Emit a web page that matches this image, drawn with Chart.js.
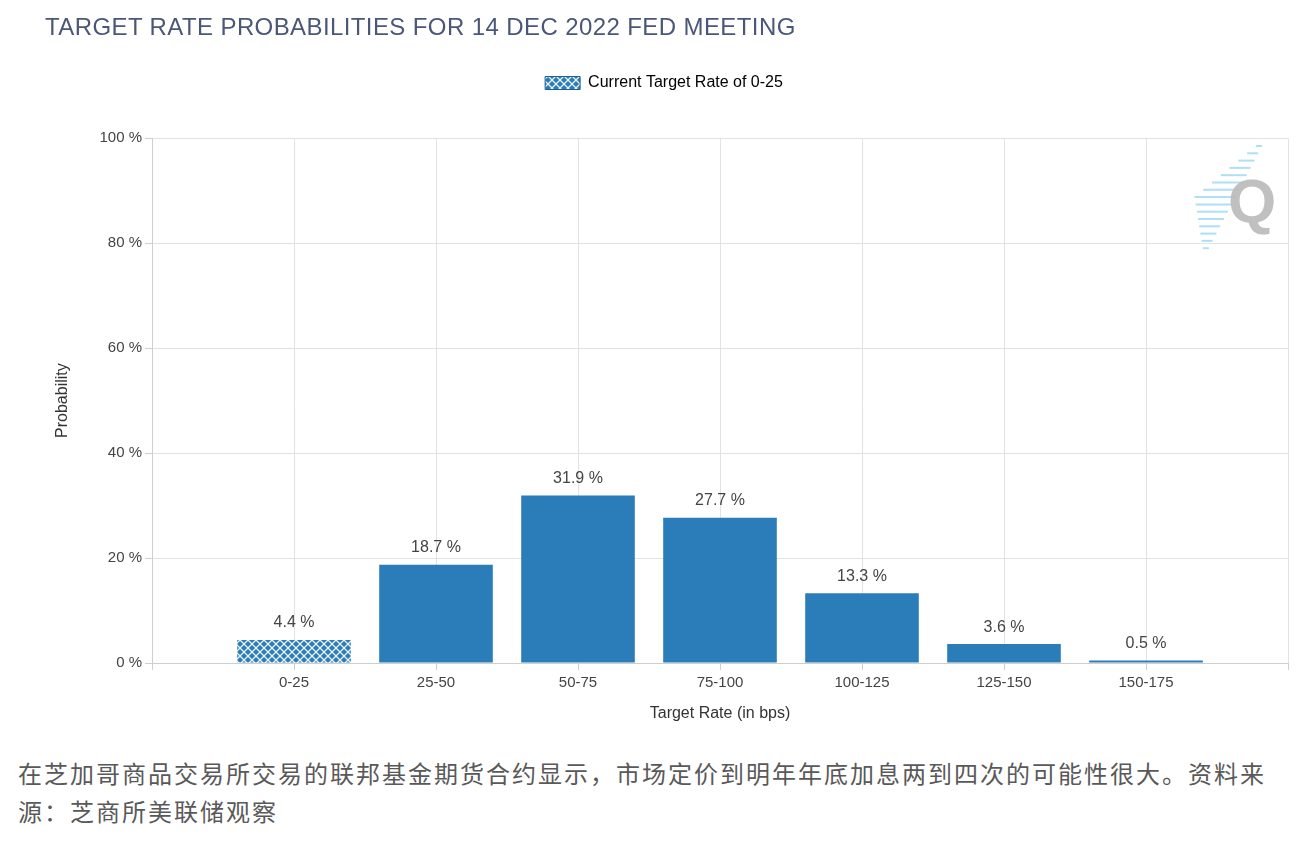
<!DOCTYPE html>
<html>
<head>
<meta charset="utf-8">
<script src="https://cdn.jsdelivr.net/npm/chart.js@4/dist/chart.umd.min.js"></script>
<style>
  body { margin: 0; background: #fff; width: 1309px; height: 846px; overflow: hidden; position: relative; }
  #title { position: absolute; left: 45px; top: 15px; font-family: "Liberation Sans", Arial, sans-serif; font-size: 24px; line-height: 24px; letter-spacing: 0.4px; color: #4b5779; white-space: nowrap; }
  #box { position: absolute; left: 0; top: 0; width: 1309px; height: 740px; }
  #caption { position: absolute; left: 18px; top: 754px; font-family: "Noto Sans CJK SC", sans-serif; font-size: 24px; line-height: 38px; letter-spacing: 2px; color: #595959; white-space: nowrap; }
</style>
</head>
<body>
<div id="box"><canvas id="myChart"></canvas></div>
<div id="title">TARGET RATE PROBABILITIES FOR 14 DEC 2022 FED MEETING</div>
<div id="caption">在芝加哥商品交易所交易的联邦基金期货合约显示，市场定价到明年年底加息两到四次的可能性很大。资料来<br>源：芝商所美联储观察</div>
<script>
// categories (empty slots at both ends keep the axis edges)
const rates = ['', '0-25', '25-50', '50-75', '75-100', '100-125', '125-150', '150-175', ''];
// probability in %
const probs = [null, 4.4, 18.7, 31.9, 27.7, 13.3, 3.6, 0.5, null];
const yTicks = [0, 20, 40, 60, 80, 100];
const currentRate = '0-25';

const blue = '#2a7db8';

// hatch pattern for the current target rate bar
function makePattern() {
    const c = document.createElement('canvas');
    c.width = 8;
    c.height = 8;
    const p = c.getContext('2d');
    p.fillStyle = blue;
    p.fillRect(0, 0, 8, 8);
    p.strokeStyle = 'rgba(255,255,255,0.9)';
    p.lineWidth = 1.3;
    p.beginPath();
    p.moveTo(0, 0); p.lineTo(8, 8);
    p.moveTo(8, 0); p.lineTo(0, 8);
    p.stroke();
    return p.createPattern(c, 'repeat');
}
const hatch = makePattern();

const colors = rates.map(r => r === currentRate ? hatch : blue);

// value labels above the bars
const barLabels = {
    id: 'barLabels',
    afterDatasetsDraw(chart) {
        const ctx = chart.ctx;
        const meta = chart.getDatasetMeta(0);
        ctx.save();
        ctx.font = '16px "Liberation Sans", Arial, sans-serif';
        ctx.fillStyle = '#444';
        ctx.textAlign = 'center';
        ctx.textBaseline = 'bottom';
        meta.data.forEach((bar, i) => {
            if (probs[i] === null) return;
            ctx.fillText(probs[i].toFixed(1) + ' %', bar.x, bar.y - 9);
        });
        ctx.restore();
    }
};

// little Q watermark in the corner
const watermark = {
    id: 'watermark',
    beforeDatasetsDraw(chart) {
        const ctx = chart.ctx;
        ctx.save();
        ctx.strokeStyle = 'rgba(110,195,240,0.55)';
        ctx.lineWidth = 2;
        for (let i = 0; i < 15; i++) {
            const y = 146 + i * 7.3;
            const xr = 1262 - i * 3.8;
            const len = 6 + Math.min(i, 14 - i) * 5;
            ctx.beginPath();
            ctx.moveTo(xr - len, y);
            ctx.lineTo(xr, y);
            ctx.stroke();
        }
        ctx.font = 'bold 62px "Liberation Sans", Arial, sans-serif';
        ctx.fillStyle = 'rgba(185,185,185,0.9)';
        ctx.textAlign = 'center';
        ctx.textBaseline = 'middle';
        ctx.fillText('Q', 1252, 205);
        ctx.restore();
    }
};

Chart.defaults.font.family = '"Liberation Sans", Arial, sans-serif';
Chart.defaults.color = '#444';

const canva = document.getElementById('myChart').getContext('2d');
const myChart = new Chart(canva, {
    type: 'bar',
    data: {
        labels: rates,
        datasets: [{
            label: 'Current Target Rate of 0-25',
            data: probs,
            backgroundColor: colors,
            borderWidth: 0,
            categoryPercentage: 0.8,
            barPercentage: 1
        }]
    },
    options: {
        responsive: true,
        maintainAspectRatio: false,
        animation: false,
        layout: { padding: { top: 55, left: 40, right: 21, bottom: 13 } },
        plugins: {
            tooltip: { enabled: false },
            legend: {
                position: 'top',
                labels: {
                    font: { size: 16 },
                    color: '#333',
                    boxWidth: 35,
                    boxHeight: 13,
                    padding: 20,
                    generateLabels: () => [{
                        text: 'Current Target Rate of 0-25',
                        fillStyle: hatch,
                        strokeStyle: '#1f5f8f',
                        lineWidth: 1,
                        datasetIndex: 0
                    }]
                }
            },
            // empty title used as a gap between the legend and the plot
            title: {
                display: true,
                text: '',
                weight: 500,
                font: { size: 16 },
                padding: { top: 0, bottom: 18 }
            }
        },
        scales: {
            x: {
                offset: false,
                grid: { offset: false, color: '#e2e2e2', tickColor: '#cfcfcf', tickLength: 7 },
                border: { color: '#cfcfcf' },
                ticks: { font: { size: 15 }, color: '#444', padding: 4, autoSkip: false, maxRotation: 0 },
                title: { display: true, text: 'Target Rate (in bps)', font: { size: 16 }, color: '#333', padding: { top: 4, bottom: 4 } },
                afterFit: (scale) => { scale.height = 64; }
            },
            y: {
                min: 0,
                max: 100,
                afterBuildTicks: (scale) => { scale.ticks = yTicks.map(v => ({ value: v })); },
                grid: { color: '#e2e2e2', tickColor: '#cfcfcf', tickLength: 7 },
                border: { color: '#cfcfcf' },
                ticks: { font: { size: 15 }, color: '#444', padding: 3, callback: (v) => v + ' %' },
                title: { display: true, text: 'Probability', font: { size: 16 }, color: '#333', padding: { top: 13, bottom: 4 } },
                afterFit: (scale) => { scale.width = 112; }
            }
        }
    },
    plugins: [barLabels, watermark]
});
</script>
</body>
</html>
